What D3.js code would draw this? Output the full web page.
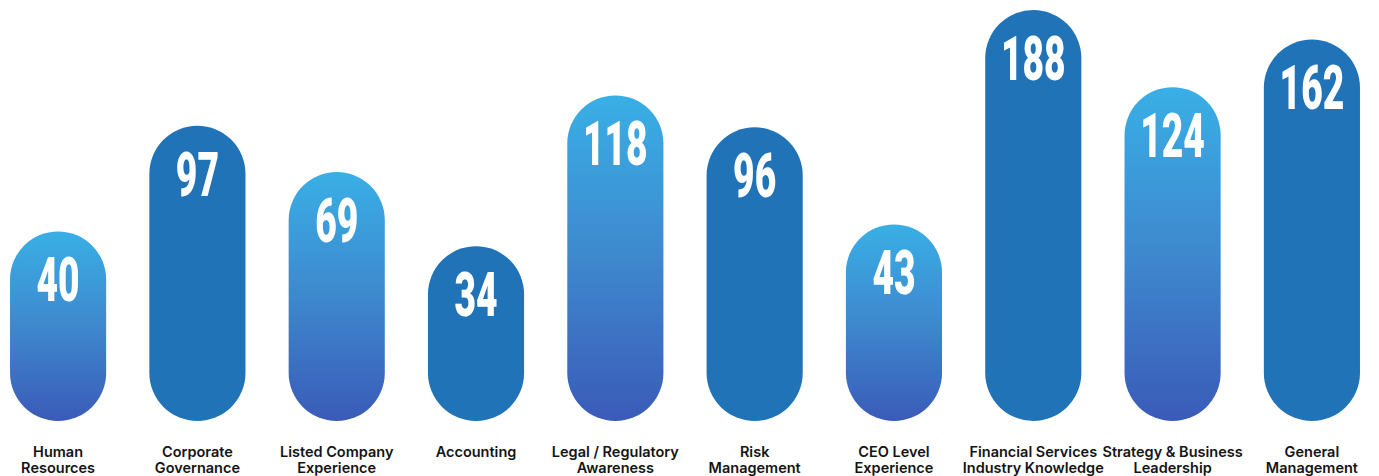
<!DOCTYPE html>
<html>
<head>
<meta charset="utf-8">
<script src="https://cdn.jsdelivr.net/npm/d3@7"></script>
<style>
  html, body { margin: 0; padding: 0; background: #ffffff; }
  svg { display: block; }
</style>
</head>
<body>
<svg id="chart" width="1379" height="476"></svg>
<script>
// Board skills matrix: number of directors per skill area
const categories = [
  "Human Resources", "Corporate Governance", "Listed Company Experience",
  "Accounting", "Legal / Regulatory Awareness", "Risk Management",
  "CEO Level Experience", "Financial Services Industry Knowledge",
  "Strategy & Business Leadership", "General Management"
];
const labelLines = [
  ["Human", "Resources"], ["Corporate", "Governance"], ["Listed Company", "Experience"],
  ["Accounting"], ["Legal / Regulatory", "Awareness"], ["Risk", "Management"],
  ["CEO Level", "Experience"], ["Financial Services", "Industry Knowledge"],
  ["Strategy & Business", "Leadership"], ["General", "Management"]
];
const counts = [40, 97, 69, 34, 118, 96, 43, 188, 124, 162];
// alternating fill style: gradient pill, then solid pill
const styles = ["grad", "solid", "grad", "solid", "grad", "solid", "grad", "solid", "grad", "solid"];

const svg = d3.select("#chart");
const baseY = 421;

const x = d3.scaleBand()
  .domain(categories)
  .range([0, 1370])
  .paddingInner(0.31)
  .paddingOuter(0.072);

const h = d3.scaleSqrt()
  .domain([0, d3.max(counts)])
  .range([0, 411]);

const defs = svg.append("defs");
const grad = defs.append("linearGradient")
  .attr("id", "pillGrad")
  .attr("x1", 0).attr("y1", 0).attr("x2", 0).attr("y2", 1);
grad.append("stop").attr("offset", "0%").attr("stop-color", "#39afe6");
grad.append("stop").attr("offset", "50%").attr("stop-color", "#3e88ce");
grad.append("stop").attr("offset", "100%").attr("stop-color", "#3a5bb8");

const data = categories.map((c, i) => ({ c, v: counts[i], s: styles[i], lines: labelLines[i] }));

const g = svg.append("g");
const bw = x.bandwidth();

g.selectAll("rect.pill")
  .data(data)
  .join("rect")
  .attr("class", "pill")
  .attr("x", d => x(d.c))
  .attr("y", d => baseY - h(d.v))
  .attr("width", bw)
  .attr("height", d => h(d.v))
  .attr("rx", bw / 2)
  .attr("ry", bw / 2)
  .attr("fill", d => d.s === "grad" ? "url(#pillGrad)" : "#2173b8");

// value labels in a tall condensed figure style
g.selectAll("text.val")
  .data(data)
  .join("text")
  .attr("class", "val")
  .attr("transform", d => `translate(${x(d.c) + bw / 2},${baseY - h(d.v) + 70}) scale(0.6,1)`)
  .attr("text-anchor", "middle")
  .attr("font-family", "Roboto, 'DejaVu Sans Condensed', sans-serif")
  .attr("font-weight", 900)
  .attr("font-size", 62)
  .attr("fill", "#ffffff")
  .text(d => d.v);

// category labels under each pill
const lab = g.selectAll("text.cat")
  .data(data)
  .join("text")
  .attr("class", "cat")
  .attr("x", d => x(d.c) + bw / 2)
  .attr("y", 457)
  .attr("text-anchor", "middle")
  .attr("font-family", "Inter, 'Noto Sans', sans-serif")
  .attr("font-weight", 600)
  .attr("font-size", 14.5)
  .attr("fill", "#141414");

lab.selectAll("tspan")
  .data(d => d.lines.map(t => ({ t, cx: x(d.c) + bw / 2 })))
  .join("tspan")
  .attr("x", d => d.cx)
  .attr("dy", (d, i) => i === 0 ? 0 : 16)
  .text(d => d.t);
</script>
</body>
</html>
